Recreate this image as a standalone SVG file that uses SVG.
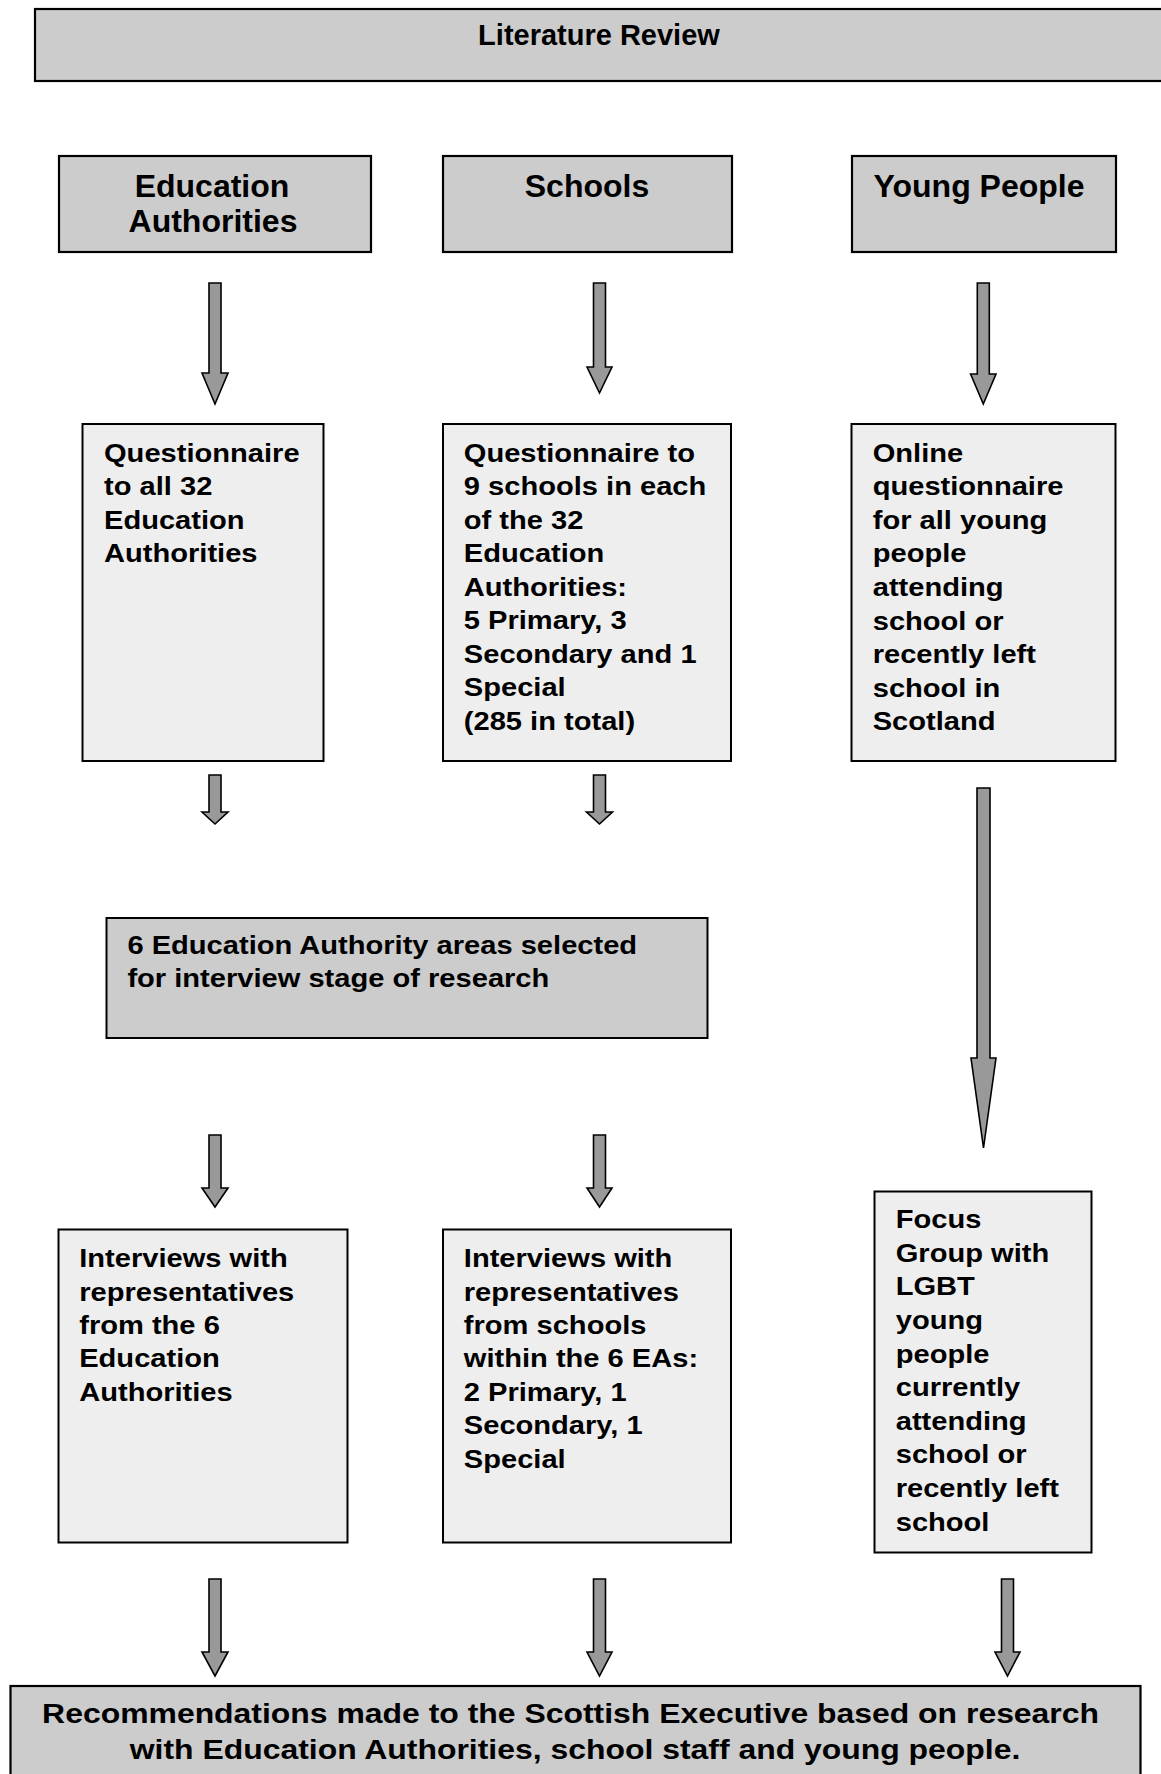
<svg xmlns="http://www.w3.org/2000/svg" width="1161" height="1774" viewBox="0 0 1161 1774">
<style>
  .hdr { fill: #cccccc; stroke: #000; stroke-width: 2.2; }
  .box { fill: #eeeeee; stroke: #000; stroke-width: 2; }
  .arr { fill: #999999; stroke: #000; stroke-width: 1.6; stroke-linejoin: miter; }
  text { font-family: "Liberation Sans", Arial, sans-serif; font-weight: bold; fill: #000; }
  .h32 { font-size: 32px; text-anchor: middle; }
  .t29 { font-size: 29px; text-anchor: middle; }
  .body { font-size: 25.6px; }
  .bot { font-size: 28px; text-anchor: middle; }
</style>
<rect x="0" y="0" width="1161" height="1774" fill="#ffffff"/>

<g id="literature-review">
  <rect class="hdr" x="35" y="9" width="1140" height="72"/>
  <text class="t29" x="599" y="45">Literature Review</text>
</g>

<g id="education-authorities">
  <rect class="hdr" x="59" y="156" width="312" height="96"/>
  <text class="h32" x="212" y="196.7">Education</text>
  <text class="h32" x="213" y="231.7">Authorities</text>
</g>

<g id="schools">
  <rect class="hdr" x="443" y="156" width="289" height="96"/>
  <text class="h32" x="587" y="196.7">Schools</text>
</g>

<g id="young-people">
  <rect class="hdr" x="852" y="156" width="264" height="96"/>
  <text class="h32" x="979" y="196.7">Young People</text>
</g>

<g id="ea-questionnaire">
  <rect class="box" x="82.5" y="424" width="241" height="337"/>
  <text class="body" transform="translate(104,461.7) scale(1.137,1)">
    <tspan x="0" dy="0">Questionnaire</tspan>
    <tspan x="0" dy="33.5">to all 32</tspan>
    <tspan x="0" dy="33.5">Education</tspan>
    <tspan x="0" dy="33.5">Authorities</tspan>
  </text>
</g>

<g id="schools-questionnaire">
  <rect class="box" x="443" y="424" width="288" height="337"/>
  <text class="body" transform="translate(463.8,461.7) scale(1.137,1)">
    <tspan x="0" dy="0">Questionnaire to</tspan>
    <tspan x="0" dy="33.5">9 schools in each</tspan>
    <tspan x="0" dy="33.5">of the 32</tspan>
    <tspan x="0" dy="33.5">Education</tspan>
    <tspan x="0" dy="33.5">Authorities:</tspan>
    <tspan x="0" dy="33.5">5 Primary, 3</tspan>
    <tspan x="0" dy="33.5">Secondary and 1</tspan>
    <tspan x="0" dy="33.5">Special</tspan>
    <tspan x="0" dy="33.5">(285 in total)</tspan>
  </text>
</g>

<g id="online-questionnaire">
  <rect class="box" x="851.5" y="424" width="264" height="337"/>
  <text class="body" transform="translate(872.7,461.7) scale(1.137,1)">
    <tspan x="0" dy="0">Online</tspan>
    <tspan x="0" dy="33.6">questionnaire</tspan>
    <tspan x="0" dy="33.6">for all young</tspan>
    <tspan x="0" dy="33.6">people</tspan>
    <tspan x="0" dy="33.6">attending</tspan>
    <tspan x="0" dy="33.6">school or</tspan>
    <tspan x="0" dy="33.6">recently left</tspan>
    <tspan x="0" dy="33.6">school in</tspan>
    <tspan x="0" dy="33.6">Scotland</tspan>
  </text>
</g>

<g id="six-ea-selected">
  <rect class="hdr" x="106.5" y="918" width="601" height="120" style="stroke-width:2"/>
  <text class="body" transform="translate(127.4,954) scale(1.137,1)">
    <tspan x="0" dy="0">6 Education Authority areas selected</tspan>
    <tspan x="0" dy="33.3">for interview stage of research</tspan>
  </text>
</g>

<g id="ea-interviews">
  <rect class="box" x="58.5" y="1229.5" width="289" height="313"/>
  <text class="body" transform="translate(79.2,1267.3) scale(1.137,1)">
    <tspan x="0" dy="0">Interviews with</tspan>
    <tspan x="0" dy="33.4">representatives</tspan>
    <tspan x="0" dy="33.4">from the 6</tspan>
    <tspan x="0" dy="33.4">Education</tspan>
    <tspan x="0" dy="33.4">Authorities</tspan>
  </text>
</g>

<g id="school-interviews">
  <rect class="box" x="443" y="1229.5" width="288" height="313"/>
  <text class="body" transform="translate(463.8,1267.3) scale(1.137,1)">
    <tspan x="0" dy="0">Interviews with</tspan>
    <tspan x="0" dy="33.4">representatives</tspan>
    <tspan x="0" dy="33.4">from schools</tspan>
    <tspan x="0" dy="33.4">within the 6 EAs:</tspan>
    <tspan x="0" dy="33.4">2 Primary, 1</tspan>
    <tspan x="0" dy="33.4">Secondary, 1</tspan>
    <tspan x="0" dy="33.4">Special</tspan>
  </text>
</g>

<g id="focus-group">
  <rect class="box" x="874.5" y="1191.5" width="217" height="361"/>
  <text class="body" transform="translate(895.7,1228.3) scale(1.137,1)">
    <tspan x="0" dy="0">Focus</tspan>
    <tspan x="0" dy="33.6">Group with</tspan>
    <tspan x="0" dy="33.6">LGBT</tspan>
    <tspan x="0" dy="33.6">young</tspan>
    <tspan x="0" dy="33.6">people</tspan>
    <tspan x="0" dy="33.6">currently</tspan>
    <tspan x="0" dy="33.6">attending</tspan>
    <tspan x="0" dy="33.6">school or</tspan>
    <tspan x="0" dy="33.6">recently left</tspan>
    <tspan x="0" dy="33.6">school</tspan>
  </text>
</g>

<g id="recommendations">
  <rect class="hdr" x="10.5" y="1686" width="1130" height="100"/>
  <text class="bot" transform="translate(575,1723.3) scale(1.14,1)">
    <tspan x="0" dy="0">Recommendations made to the Scottish Executive based on research</tspan>
    <tspan x="0" dy="36">with Education Authorities, school staff and young people.</tspan>
  </text>
</g>

<g id="connectors">
  <polygon class="arr" points="209,283 221,283 221,373 228,373 215,404 202,373 209,373"/>
  <polygon class="arr" points="593.5,283 605.5,283 605.5,367 612,367 599.5,393 587,367 593.5,367"/>
  <polygon class="arr" points="977.3,283 989.3,283 989.3,374 996,374 983.3,404 970.6,374 977.3,374"/>

  <polygon class="arr" points="209,775 221,775 221,812 228,812 215,824 202,812 209,812"/>
  <polygon class="arr" points="593.5,775 605.5,775 605.5,812 612.5,812 599.5,824 586.5,812 593.5,812"/>
  <polygon class="arr" points="977,788 990,788 990,1058 996,1058 983.5,1148 971,1058 977,1058"/>

  <polygon class="arr" points="209,1135 221,1135 221,1188 228,1188 215,1207 202,1188 209,1188"/>
  <polygon class="arr" points="593.5,1135 605.5,1135 605.5,1188 612,1188 599.5,1207 587,1188 593.5,1188"/>

  <polygon class="arr" points="209,1579 221,1579 221,1652 228,1652 215,1676 202,1652 209,1652"/>
  <polygon class="arr" points="593.5,1579 605.5,1579 605.5,1652 612,1652 599.5,1676 587,1652 593.5,1652"/>
  <polygon class="arr" points="1001.5,1579 1013.5,1579 1013.5,1652 1020,1652 1007.5,1676 995,1652 1001.5,1652"/>
</g>
</svg>
